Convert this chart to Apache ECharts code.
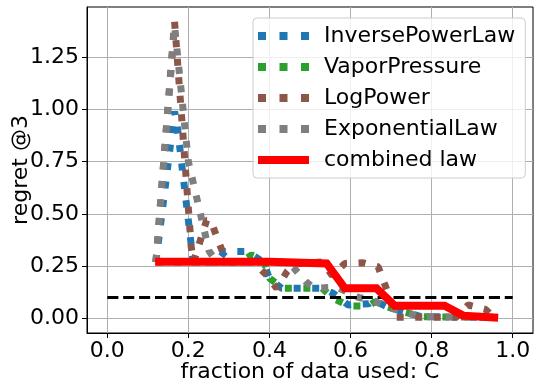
<!DOCTYPE html>
<html>
<head>
<meta charset="utf-8">
<script src="https://cdn.jsdelivr.net/npm/echarts@6/dist/echarts.min.js"></script>
<style>
  html, body { margin: 0; padding: 0; background: #fff; }
  #chart { width: 540px; height: 391px; }
</style>
</head>
<body>
<div id="chart"></div>
<script>
// values
const xTicks = [0, 0.2, 0.4, 0.6, 0.8, 1.0];
const yTicks = [0, 0.25, 0.5, 0.75, 1.0, 1.25];

const inversePowerLawX = [0.12, 0.166, 0.172, 0.212, 0.27, 0.29, 0.34, 0.36, 0.385, 0.40, 0.43, 0.53, 0.557, 0.594, 0.645, 0.656, 0.69, 0.73, 0.775, 0.95];
const inversePowerLawY = [0.27, 0.99, 0.93, 0.27, 0.27, 0.32, 0.32, 0.30, 0.27, 0.19, 0.144, 0.144, 0.12, 0.064, 0.07, 0.088, 0.055, 0.032, 0.008, 0.005];

const vaporPressureX = [0.12, 0.33, 0.356, 0.385, 0.401, 0.434, 0.53, 0.557, 0.598, 0.644, 0.66, 0.69, 0.73, 0.775, 0.95];
const vaporPressureY = [0.27, 0.27, 0.303, 0.28, 0.19, 0.144, 0.144, 0.096, 0.059, 0.059, 0.08, 0.055, 0.032, 0.008, 0.005];

const logPowerX = [0.12, 0.166, 0.207, 0.213, 0.245, 0.255, 0.27, 0.29, 0.30, 0.36, 0.393, 0.418, 0.443, 0.46, 0.53, 0.555, 0.586, 0.631, 0.668, 0.685, 0.713, 0.86, 0.89, 0.933, 0.955];
const logPowerY = [0.27, 1.42, 0.343, 0.27, 0.47, 0.47, 0.39, 0.29, 0.27, 0.27, 0.207, 0.144, 0.223, 0.26, 0.27, 0.205, 0.263, 0.266, 0.247, 0.16, 0.005, 0.005, 0.064, 0.043, 0.0];

const exponentialLawX = [0.12, 0.166, 0.2, 0.251, 0.27, 0.44, 0.459, 0.49, 0.51, 0.566, 0.62, 0.652, 0.689, 0.73, 0.771, 0.95];
const exponentialLawY = [0.27, 1.40, 0.75, 0.322, 0.27, 0.27, 0.244, 0.175, 0.144, 0.15, 0.10, 0.088, 0.056, 0.032, 0.008, 0.005];

const combinedLawX = [0.118, 0.40, 0.541, 0.586, 0.664, 0.709, 0.832, 0.878, 0.964];
const combinedLawY = [0.271, 0.271, 0.263, 0.144, 0.144, 0.06, 0.06, 0.013, 0.003];

const thresholdX = [0, 1];
const thresholdY = [0.1, 0.1];

function zip(xs, ys) {
    return xs.map(function (x, i) { return [x, ys[i]]; });
}

const FONT = 'DejaVu Sans';
const FS = 22;
const lw = 7;
const dotted = [lw, lw * 1.65];
const dotIcon = 'path://M0,0h8v8h-8z M21.5,0h8v8h-8z M43,0h8v8h-8z';
const barIcon = 'path://M0,0h51v8h-51z';

function dottedSeries(name, color, xs, ys) {
    return {
        name: name,
        type: 'line',
        data: zip(xs, ys),
        symbol: 'none',
        color: color,
        lineStyle: { color: color, width: lw, type: dotted, cap: 'butt' }
    };
}

const chart = echarts.init(document.getElementById('chart'), null, { renderer: 'canvas' });

chart.setOption({
    animation: false,
    backgroundColor: '#fff',
    textStyle: { fontFamily: FONT },
    grid: {
        left: 87, right: 7, top: 7, bottom: 58,
        show: true, borderColor: '#000', borderWidth: 1,
        outerBoundsMode: 'none'
    },
    legend: {
        left: 253, top: 18,
        orient: 'vertical',
        itemWidth: 51, itemHeight: 8,
        itemGap: 7,
        padding: [6, 10, 6, 5],
        symbolKeepAspect: false,
        backgroundColor: 'rgba(255,255,255,0.8)',
        borderColor: '#cccccc', borderWidth: 1, borderRadius: 4,
        textStyle: { fontFamily: FONT, fontSize: FS, color: '#000', padding: [0, 0, 0, 10], lineHeight: 24 },
        data: [
            { name: 'InversePowerLaw', icon: dotIcon },
            { name: 'VaporPressure', icon: dotIcon },
            { name: 'LogPower', icon: dotIcon },
            { name: 'ExponentialLaw', icon: dotIcon },
            { name: 'combined law', icon: barIcon }
        ]
    },
    xAxis: {
        type: 'value',
        min: -0.05, max: 1.05,
        name: 'fraction of data used: C',
        nameLocation: 'middle',
        nameGap: 28,
        nameMoveOverlap: false,
        nameTextStyle: { fontFamily: FONT, fontSize: FS, color: '#000' },
        axisLine: { show: true, onZero: false, lineStyle: { color: '#000', width: 1 } },
        axisTick: { show: true, inside: false, length: 5, customValues: xTicks, lineStyle: { color: '#000' } },
        axisLabel: {
            customValues: xTicks, margin: 7,
            fontFamily: FONT, fontSize: FS, color: '#000',
            formatter: function (v) { return v.toFixed(1); }
        },
        splitLine: { show: true, lineStyle: { color: '#b0b0b0', width: 1 } }
    },
    yAxis: {
        type: 'value',
        min: -0.07, max: 1.49,
        name: 'regret @3',
        nameLocation: 'middle',
        nameGap: 55,
        nameMoveOverlap: false,
        nameTextStyle: { fontFamily: FONT, fontSize: FS, color: '#000' },
        axisLine: { show: true, onZero: false, lineStyle: { color: '#000', width: 1 } },
        axisTick: { show: true, inside: false, length: 5, customValues: yTicks, lineStyle: { color: '#000' } },
        axisLabel: {
            customValues: yTicks, margin: 8,
            fontFamily: FONT, fontSize: FS, color: '#000',
            formatter: function (v) { return v.toFixed(2); }
        },
        splitLine: { show: true, lineStyle: { color: '#b0b0b0', width: 1 } }
    },
    series: [
        dottedSeries('InversePowerLaw', '#1f77b4', inversePowerLawX, inversePowerLawY),
        dottedSeries('VaporPressure', '#2ca02c', vaporPressureX, vaporPressureY),
        dottedSeries('LogPower', '#8c564b', logPowerX, logPowerY),
        dottedSeries('ExponentialLaw', '#7f7f7f', exponentialLawX, exponentialLawY),
        {
            name: 'threshold',
            type: 'line',
            data: zip(thresholdX, thresholdY),
            symbol: 'none',
            color: '#000',
            lineStyle: { color: '#000', width: 3, type: [11.1, 4.8], cap: 'butt' }
        },
        {
            name: 'combined law',
            type: 'line',
            data: zip(combinedLawX, combinedLawY),
            symbol: 'none',
            color: '#ff0000',
            lineStyle: { color: '#ff0000', width: 8, cap: 'butt', join: 'miter' }
        }
    ]
});
</script>
</body>
</html>
